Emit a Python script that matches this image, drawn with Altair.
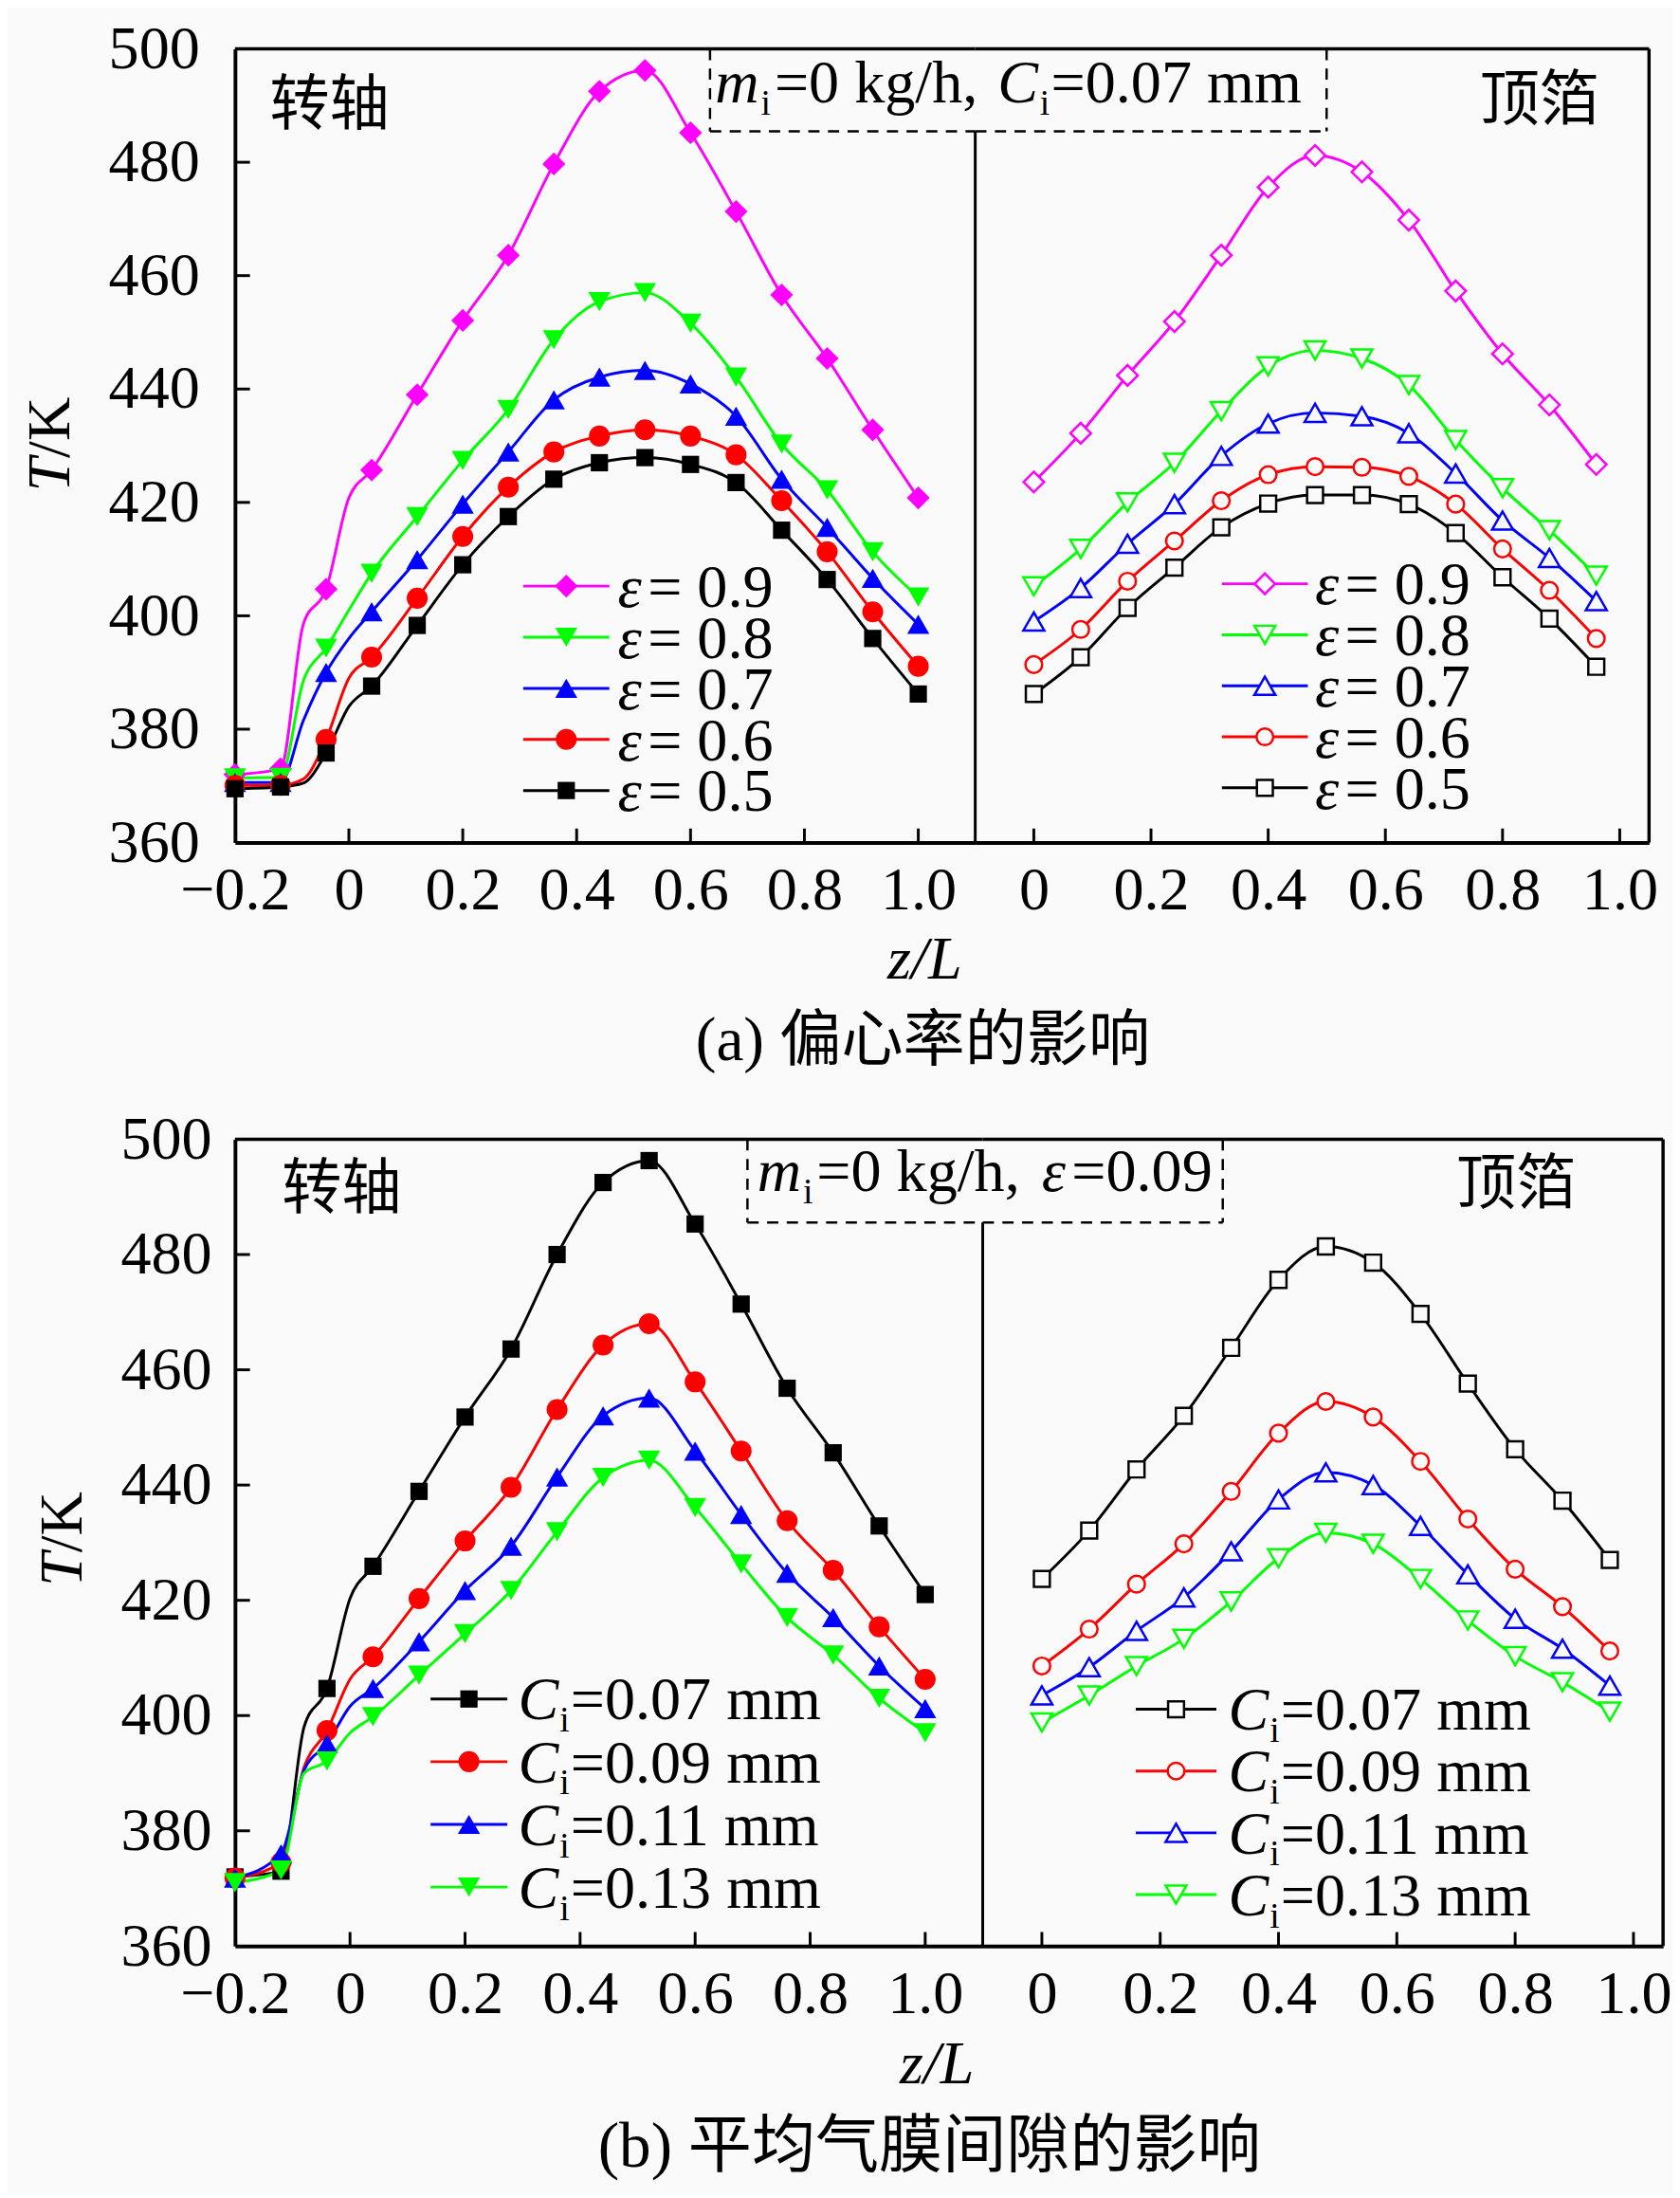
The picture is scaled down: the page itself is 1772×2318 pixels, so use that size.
import pandas as pd
import altair as alt

SERIF = "Liberation Serif"
MIXED = "Liberation Serif, Noto Sans CJK SC"
CJK = "Noto Sans CJK SC"
BG = "#fafafa"
FS = 65

########################################################################
# data
########################################################################

# axial positions of the markers
Z_SHAFT = [-0.2, -0.12, -0.04, 0.04, 0.12, 0.2, 0.28, 0.36, 0.44, 0.52,
           0.6, 0.68, 0.76, 0.84, 0.92, 1.0]
Z_SHAFT_KNEE = [-0.08, 0.0]   # curve points without a marker
Z_FOIL = [0.0, 0.08, 0.16, 0.24, 0.32, 0.4, 0.48, 0.56, 0.64, 0.72, 0.8, 0.88, 0.96]

X_LABELS_SHAFT = [-0.2, 0, 0.2, 0.4, 0.6, 0.8, 1.0]
X_LABELS_FOIL = [0, 0.2, 0.4, 0.6, 0.8, 1.0]
X_TICKS = [0, 0.2, 0.4, 0.6, 0.8, 1.0]
Y_LABELS = [360, 380, 400, 420, 440, 460, 480, 500]
Y_TICKS = [380, 400, 420, 440, 460, 480]

# (a) eccentricity
ECC = ["0.9", "0.8", "0.7", "0.6", "0.5"]
ECC_COLORS = ["#ff00ff", "#00ff00", "#0000ff", "#ff0000", "#000000"]
ECC_SHAPES = ["diamond", "triangle-down", "triangle-up", "circle", "square"]

A_SHAFT_09 = [372.0, 373.0, 404.7, 425.7, 439.0, 452.1, 463.6, 479.7, 492.5, 496.2, 485.2, 471.3, 456.6, 445.4, 432.8, 420.8]
A_SHAFT_08 = [371.4, 371.5, 394.3, 407.5, 417.5, 427.4, 436.4, 448.7, 455.4, 457.0, 451.6, 442.1, 430.3, 422.2, 411.3, 403.3]
A_SHAFT_07 = [370.6, 370.6, 390.0, 400.7, 409.9, 419.7, 428.9, 438.1, 442.1, 443.3, 440.9, 435.2, 424.1, 415.6, 406.6, 398.5]
A_SHAFT_06 = [370.1, 370.1, 378.2, 392.7, 403.1, 414.0, 422.7, 428.9, 431.7, 432.8, 431.7, 428.4, 420.3, 411.3, 400.7, 391.1]
A_SHAFT_05 = [369.5, 369.8, 375.8, 387.6, 398.3, 409.0, 417.5, 424.1, 427.0, 427.9, 426.7, 423.5, 415.1, 406.4, 396.0, 386.2]
A_KNEE_09 = [398.5, 420.8]
A_KNEE_08 = [388.5, 401.0]
A_KNEE_07 = [381.5, 396.0]
A_KNEE_06 = [371.2, 389.0]
A_KNEE_05 = [370.5, 384.0]

A_FOIL_09 = [423.6, 432.2, 442.4, 451.9, 463.6, 475.6, 481.2, 478.3, 469.8, 457.3, 446.2, 437.2, 426.7]
A_FOIL_08 = [405.2, 411.8, 420.0, 427.0, 436.1, 444.0, 446.8, 445.4, 440.7, 431.0, 422.5, 415.1, 407.1]
A_FOIL_07 = [399.0, 404.9, 412.7, 419.7, 428.2, 433.9, 435.8, 435.2, 432.2, 425.1, 416.8, 410.2, 402.6]
A_FOIL_06 = [391.4, 397.6, 406.1, 413.2, 420.3, 424.9, 426.3, 426.2, 424.6, 419.7, 411.8, 404.5, 396.0]
A_FOIL_05 = [386.2, 392.7, 401.4, 408.5, 415.6, 419.8, 421.3, 421.3, 419.7, 414.6, 406.8, 399.5, 391.0]

# (b) mean film clearance
GAP = ["0.07", "0.09", "0.11", "0.13"]
GAP_COLORS = ["#000000", "#ff0000", "#0000ff", "#00ff00"]
GAP_SHAPES = ["square", "circle", "triangle-up", "triangle-down"]

B_SHAFT_007 = [372.0, 373.0, 404.7, 425.9, 438.9, 451.8, 463.6, 480.0, 492.5, 496.3, 485.3, 471.4, 456.8, 445.6, 432.9, 421.0]
B_SHAFT_009 = [371.8, 374.5, 397.4, 410.2, 420.3, 430.3, 439.6, 453.1, 464.3, 468.0, 457.9, 445.9, 433.8, 425.2, 415.4, 406.3]
B_SHAFT_011 = [371.8, 376.0, 395.1, 404.7, 412.8, 421.7, 429.4, 441.4, 452.0, 455.1, 445.9, 434.9, 424.7, 417.0, 408.6, 401.2]
B_SHAFT_013 = [371.0, 373.2, 392.1, 399.8, 407.0, 414.2, 421.7, 431.9, 441.3, 444.3, 436.1, 426.3, 417.0, 410.5, 403.0, 397.0]
B_KNEE_007 = [398.0, 420.3]
B_KNEE_009 = [391.0, 406.3]
B_KNEE_011 = [390.5, 401.6]
B_KNEE_013 = [390.0, 397.0]

B_FOIL_007 = [423.7, 432.1, 442.7, 452.0, 463.8, 475.6, 481.4, 478.6, 469.7, 457.6, 446.2, 437.3, 427.0]
B_FOIL_009 = [408.6, 415.0, 422.8, 429.8, 438.9, 449.0, 454.5, 451.8, 444.1, 434.1, 425.4, 418.9, 411.2]
B_FOIL_011 = [403.5, 408.4, 414.7, 420.5, 428.5, 437.5, 442.2, 440.0, 432.9, 424.5, 416.8, 411.6, 405.2]
B_FOIL_013 = [398.8, 403.5, 408.6, 413.3, 419.8, 427.3, 431.7, 429.8, 423.7, 416.5, 410.3, 405.8, 400.7]

########################################################################
# helpers
########################################################################

ONE = pd.DataFrame({"k": [0]})
SIZE_FILLED = {"diamond": 600, "triangle-down": 560, "triangle-up": 560, "circle": 500, "square": 340}
SIZE_HOLLOW = {"diamond": 480, "triangle-down": 500, "triangle-up": 500, "circle": 320, "square": 290}


def frame(z, labels, rows, shapes=None, sizes=None):
    recs = []
    for i, (lab, vals) in enumerate(zip(labels, rows)):
        for a, b in zip(z, vals):
            r = {"z": a, "T": b, "s": lab}
            if shapes is not None:
                r["sz"] = sizes[shapes[i]]
            recs.append(r)
    return pd.DataFrame(recs)


def text(s, x, y, size=FS, italic=False, align="left", baseline="alphabetic", font=SERIF, angle=0):
    return alt.Chart(ONE).mark_text(
        text=s, font=font, fontSize=size, fontStyle="italic" if italic else "normal",
        align=align, baseline=baseline, angle=angle, color="black"
    ).encode(x=alt.value(x), y=alt.value(y))


def rule(x1, x2, y1, y2, w=3.0, dash=None):
    kw = {"strokeDash": dash} if dash else {}
    return alt.Chart(ONE).mark_rule(color="black", strokeWidth=w, **kw).encode(
        x=alt.value(x1), x2=alt.value(x2), y=alt.value(y1), y2=alt.value(y2))


def x_axis(values):
    return alt.Axis(values=values, title=None, grid=False, ticks=False, tickSize=0,
                    labelExpr="datum.value == 0 ? '0' : format(datum.value, '.1f')",
                    labelFont=SERIF, labelFontSize=FS, labelColor="black", labelPadding=20,
                    labelFlush=False, labelOverlap=False,
                    domainColor="black", domainWidth=4)


def y_axis(pad):
    return alt.Axis(values=Y_LABELS, title=None, grid=False, ticks=False, tickSize=0,
                    labelFont=SERIF, labelFontSize=FS, labelColor="black", labelPadding=pad,
                    labelFlush=False, labelOverlap=False,
                    domainColor="black", domainWidth=4)


def curves(df_line, df_pts, xs, ys, cs, ss, xaxis, yaxis, filled):
    line = alt.Chart(df_line).mark_line(interpolate="monotone", strokeWidth=3).encode(
        x=alt.X("z:Q", scale=xs, axis=xaxis),
        y=alt.Y("T:Q", scale=ys, axis=yaxis),
        color=alt.Color("s:N", scale=cs, legend=None),
    )
    if filled:
        pm = dict(filled=True, opacity=1)
    else:
        pm = dict(filled=False, fill=BG, strokeWidth=2.5, opacity=1)
    pts = alt.Chart(df_pts).mark_point(**pm).encode(
        x=alt.X("z:Q", scale=xs),
        y=alt.Y("T:Q", scale=ys),
        color=alt.Color("s:N", scale=cs, legend=None),
        shape=alt.Shape("s:N", scale=ss, legend=None),
        size=alt.Size("sz:Q", scale=None, legend=None),
    )
    return [line, pts]


def ticks(xs, ys, height, with_y):
    out = [alt.Chart(pd.DataFrame({"v": X_TICKS})).mark_rule(color="black", strokeWidth=3).encode(
        x=alt.X("v:Q", scale=xs), y=alt.value(height - 15), y2=alt.value(height))]
    if with_y:
        out.append(alt.Chart(pd.DataFrame({"v": Y_TICKS})).mark_rule(color="black", strokeWidth=3).encode(
            x=alt.value(0), x2=alt.value(16), y=alt.Y("v:Q", scale=ys)))
    return out


def legend(labels, shapes, sizes, cs, ss, filled, x1, x2, xm, y0, dy, pieces):
    df = pd.DataFrame({"s": labels})
    df["ly"] = [y0 + i * dy for i in range(len(labels))]
    df["sz"] = [sizes[s] for s in shapes]
    if filled:
        pm = dict(filled=True, opacity=1)
    else:
        pm = dict(filled=False, fill=BG, strokeWidth=2.5, opacity=1)
    out = [
        alt.Chart(df).mark_rule(strokeWidth=3).encode(
            x=alt.value(x1), x2=alt.value(x2), y=alt.Y("ly:Q", scale=None),
            color=alt.Color("s:N", scale=cs, legend=None)),
        alt.Chart(df).mark_point(**pm).encode(
            x=alt.value(xm), y=alt.Y("ly:Q", scale=None),
            color=alt.Color("s:N", scale=cs, legend=None),
            shape=alt.Shape("s:N", scale=ss, legend=None),
            size=alt.Size("sz:Q", scale=None, legend=None)),
    ]
    for fmt, px, dyb, size, italic in pieces:
        d = df.copy()
        d["t"] = [fmt.format(s) for s in labels]
        d["b"] = d["ly"] + 22 + dyb
        out.append(alt.Chart(d).mark_text(
            font=SERIF, fontSize=size, fontStyle="italic" if italic else "normal",
            align="left", baseline="alphabetic", color="black"
        ).encode(x=alt.value(px), y=alt.Y("b:Q", scale=None), text="t:N"))
    return out


########################################################################
# (a) influence of eccentricity
########################################################################

WA, WAR, HA = 791, 720, 848
ys_a = alt.Scale(domain=[360, 500], nice=False, zero=False)
xs_shaft = alt.Scale(domain=[-0.2, 1.1], nice=False, zero=False)
xs_foil = alt.Scale(domain=[-0.1, 1.05], nice=False, zero=False)
cs_a = alt.Scale(domain=ECC, range=ECC_COLORS)
ss_a = alt.Scale(domain=ECC, range=ECC_SHAPES)

a_shaft_rows = [A_SHAFT_09, A_SHAFT_08, A_SHAFT_07, A_SHAFT_06, A_SHAFT_05]
a_knee_rows = [A_KNEE_09, A_KNEE_08, A_KNEE_07, A_KNEE_06, A_KNEE_05]
a_foil_rows = [A_FOIL_09, A_FOIL_08, A_FOIL_07, A_FOIL_06, A_FOIL_05]

a_shaft_pts = frame(Z_SHAFT, ECC, a_shaft_rows, ECC_SHAPES, SIZE_FILLED)
a_shaft_line = pd.concat([frame(Z_SHAFT, ECC, a_shaft_rows), frame(Z_SHAFT_KNEE, ECC, a_knee_rows)])
a_foil_pts = frame(Z_FOIL, ECC, a_foil_rows, ECC_SHAPES, SIZE_HOLLOW)
a_foil_line = frame(Z_FOIL, ECC, a_foil_rows)

left_a = alt.layer(
    *curves(a_shaft_line, a_shaft_pts, xs_shaft, ys_a, cs_a, ss_a, x_axis(X_LABELS_SHAFT), y_axis(38), True),
    *ticks(xs_shaft, ys_a, HA, True),
    rule(0, WA, 0, 0, 3.5),
    rule(507.6, 507.6, 0, 88, 2.5, [12, 9]),
    rule(507.6, WA, 88, 88, 2.5, [12, 9]),
    text("m", 513, 57, italic=True),
    text("i", 562, 70, size=38),
    text("=0 kg/h, ", 576.5, 57),
    text("C", 815, 57, italic=True),
    text("i", 860, 70, size=38),
    text("=0.07 mm", 872, 57),
    text("转轴", 37, 62, size=64, baseline="middle", font=CJK),
    *legend(ECC, ECC_SHAPES, SIZE_FILLED, cs_a, ss_a, True, 308, 400, 354, 574, 54.6,
            [("ε", 409, 0, FS, True), ("= {}", 441, 0, FS, False)]),
    text("T", -197, 437, italic=True, align="right", baseline="middle", angle=270),
    text("/K", -197, 437, align="left", baseline="middle", angle=270),
    text("z/L", 737, 993, italic=True, align="center"),
    text("(a) 偏心率的影响", 735, 1060, size=66, align="center", baseline="middle", font=MIXED),
).properties(width=WA, height=HA)

right_a = alt.layer(
    *curves(a_foil_line, a_foil_pts, xs_foil, ys_a, cs_a, ss_a, x_axis(X_LABELS_FOIL), None, False),
    *ticks(xs_foil, ys_a, HA, False),
    rule(0, WAR, 0, 0, 3.5),
    rule(WAR, WAR, 0, HA, 3.5),
    rule(0, 0, 88, HA, 3),
    rule(0, 375.5, 88, 88, 2.5, [12, 9]),
    rule(375.5, 375.5, 0, 88, 2.5, [12, 9]),
    text("顶箔", 539, 56, size=64, baseline="middle", font=CJK),
    *legend(ECC, ECC_SHAPES, SIZE_HOLLOW, cs_a, ss_a, False, 263.6, 355.4, 309.5, 571.5, 54.5,
            [("ε", 363, 0, FS, True), ("= {}", 395, 0, FS, False)]),
).properties(width=WAR, height=HA)

########################################################################
# (b) influence of mean film clearance
########################################################################

WB, WBR, HB = 799, 727, 862
ys_b = alt.Scale(domain=[360, 500], nice=False, zero=False)
cs_b = alt.Scale(domain=GAP, range=GAP_COLORS)
ss_b = alt.Scale(domain=GAP, range=GAP_SHAPES)

b_shaft_rows = [B_SHAFT_007, B_SHAFT_009, B_SHAFT_011, B_SHAFT_013]
b_knee_rows = [B_KNEE_007, B_KNEE_009, B_KNEE_011, B_KNEE_013]
b_foil_rows = [B_FOIL_007, B_FOIL_009, B_FOIL_011, B_FOIL_013]

b_shaft_pts = frame(Z_SHAFT, GAP, b_shaft_rows, GAP_SHAPES, SIZE_FILLED)
b_shaft_line = pd.concat([frame(Z_SHAFT, GAP, b_shaft_rows), frame(Z_SHAFT_KNEE, GAP, b_knee_rows)])
b_foil_pts = frame(Z_FOIL, GAP, b_foil_rows, GAP_SHAPES, SIZE_HOLLOW)
b_foil_line = frame(Z_FOIL, GAP, b_foil_rows)

left_b = alt.layer(
    *curves(b_shaft_line, b_shaft_pts, xs_shaft, ys_b, cs_b, ss_b, x_axis(X_LABELS_SHAFT), y_axis(25), True),
    *ticks(xs_shaft, ys_b, HB, True),
    rule(0, WB, 0, 0, 3.5),
    rule(547.6, 547.6, 0, 89, 2.5, [12, 9]),
    rule(547.6, WB, 89, 89, 2.5, [12, 9]),
    text("m", 558, 55, italic=True),
    text("i", 607, 68, size=38),
    text("=0 kg/h, ", 621.5, 55),
    text("ε", 862, 55, italic=True),
    text("=0.09", 894, 55),
    text("转轴", 50, 54, size=64, baseline="middle", font=CJK),
    *legend(GAP, GAP_SHAPES, SIZE_FILLED, cs_b, ss_b, True, 209, 291, 250, 598, 67,
            [("C", 302.5, 0, FS, True), ("i", 347, 13, 38, False), ("={} mm", 358.5, 0, FS, False)]),
    text("T", -184, 441.5, italic=True, align="right", baseline="middle", angle=270),
    text("/K", -184, 441.5, align="left", baseline="middle", angle=270),
    text("z/L", 750, 1009, italic=True, align="center"),
    text("(b) 平均气膜间隙的影响", 742, 1078, size=68, align="center", baseline="middle", font=MIXED),
).properties(width=WB, height=HB)

right_b = alt.layer(
    *curves(b_foil_line, b_foil_pts, xs_foil, ys_b, cs_b, ss_b, x_axis(X_LABELS_FOIL), None, False),
    *ticks(xs_foil, ys_b, HB, False),
    rule(0, WBR, 0, 0, 3.5),
    rule(WBR, WBR, 0, HB, 3.5),
    rule(0, 0, 89, HB, 3),
    rule(0, 256.5, 89, 89, 2.5, [12, 9]),
    rule(256.5, 256.5, 0, 89, 2.5, [12, 9]),
    text("顶箔", 506, 49.5, size=64, baseline="middle", font=CJK),
    *legend(GAP, GAP_SHAPES, SIZE_HOLLOW, cs_b, ss_b, False, 163.6, 249.7, 206.6, 609, 66,
            [("C", 262.3, 0, FS, True), ("i", 306.8, 13, 38, False), ("={} mm", 318.3, 0, FS, False)]),
).properties(width=WBR, height=HB)

row_a = alt.hconcat(left_a, right_a, spacing=0, bounds="flush")
row_b = alt.hconcat(left_b, right_b, spacing=0, bounds="flush")

chart = alt.vconcat(row_a, row_b, spacing=40).properties(
    background=BG,
    padding={"left": 14, "right": 0, "top": -3, "bottom": 0},
).resolve_scale(
    color="independent", shape="independent"
).configure_view(stroke=None)

chart.save("out.html", embed_options={"renderer": "svg", "actions": False})
